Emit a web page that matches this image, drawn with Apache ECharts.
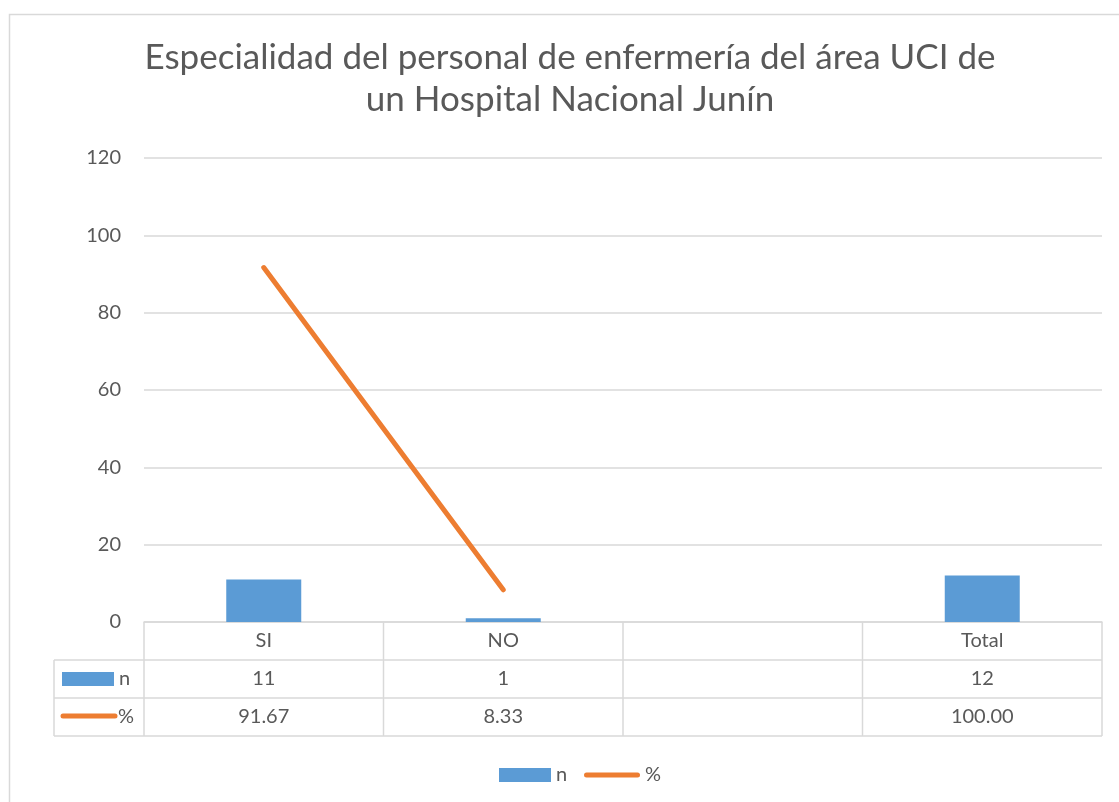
<!DOCTYPE html>
<html>
<head>
<meta charset="utf-8">
<script src="https://cdn.jsdelivr.net/npm/echarts@6/dist/echarts.min.js"></script>
<style>
html,body{margin:0;padding:0;background:#fff;}
#main{width:1119px;height:802px;}
</style>
</head>
<body>
<div id="main"></div>
<script>
const titleLines = ['Especialidad del personal de enfermería del área UCI de', 'un Hospital Nacional Junín'];
const categories = ['SI', 'NO', '', 'Total'];
const nValues = [11, 1, null, 12];
const pctValues = [91.67, 8.33, null, 100.00];
const yTicks = [0, 20, 40, 60, 80, 100, 120];
const seriesNames = ['n', '%'];

const FONT = 'Lato, "Open Sans", sans-serif';
const TXT = '#595959';
const GRID = '#d9d9d9';
const BLUE = '#5B9BD5';
const ORANGE = '#ED7D31';
const FS = 20;

const chart = echarts.init(document.getElementById('main'));
const option = {
  animation: false,
  textStyle: { fontFamily: FONT },
  grid: { left: 144, right: 17, top: 158, bottom: 180, outerBoundsMode: 'none' },
  legend: [
    {
      left: 494, top: 760,
      itemWidth: 52, itemHeight: 14, itemGap: 26,
      textStyle: { fontSize: FS, color: TXT, fontFamily: FONT },
      data: [{ name: seriesNames[0], icon: 'rect' }]
    },
    {
      left: 579, top: 760,
      itemWidth: 56, itemHeight: 5, itemGap: 10,
      textStyle: { fontSize: FS, color: TXT, fontFamily: FONT },
      data: [{ name: seriesNames[1], icon: 'path://M2.5,0 L53.5,0 A2.5,2.5 0 0 1 53.5,5 L2.5,5 A2.5,2.5 0 0 1 2.5,0 Z' }]
    }
  ],
  xAxis: {
    type: 'category',
    data: categories,
    axisLine: { show: true, lineStyle: { color: GRID, width: 1.5 } },
    axisTick: { show: false },
    axisLabel: { show: false },
    splitLine: { show: false }
  },
  yAxis: {
    type: 'value',
    min: yTicks[0], max: yTicks[yTicks.length - 1], interval: 20,
    axisLine: { show: false },
    axisTick: { show: false },
    axisLabel: { fontSize: FS, color: TXT, margin: 23, fontFamily: FONT },
    splitLine: { lineStyle: { color: GRID, width: 1.5 } }
  },
  series: [
    {
      name: seriesNames[0], type: 'bar', data: nValues, barWidth: 75,
      itemStyle: { color: BLUE }
    },
    {
      name: seriesNames[1], type: 'line', data: pctValues,
      symbol: 'none', connectNulls: false,
      lineStyle: { color: ORANGE, width: 5, cap: 'round' },
      itemStyle: { color: ORANGE }
    }
  ]
};
chart.setOption(option);

// Build the data table and title as graphics
const centers = categories.map((c, i) => chart.convertToPixel({ xAxisIndex: 0 }, i));
const band = centers[1] - centers[0];
const x0 = centers[0] - band / 2;
const x1 = centers[centers.length - 1] + band / 2;
const yZero = chart.convertToPixel({ yAxisIndex: 0 }, 0);
const rowH = 38;
const leftX = 54;
const lineStyle = { stroke: GRID, lineWidth: 1.5 };
const els = [];

// outer chart border
els.push({ type: 'rect', shape: { x: 9.5, y: 14.5, width: 1130, height: 800 }, style: { fill: 'none', stroke: GRID, lineWidth: 1.5 }, silent: true });

// title
titleLines.forEach((t, i) => {
  els.push({
    type: 'text', x: 570, y: 58 + i * 42,
    style: { text: t, fontSize: 35, fill: TXT, fontFamily: FONT, align: 'center', verticalAlign: 'middle' }
  });
});

// horizontal lines
const yTop = yZero, yR1 = yZero + rowH, yR2 = yZero + 2 * rowH, yBot = yZero + 3 * rowH;
els.push({ type: 'line', shape: { x1: leftX, y1: yR1, x2: x1, y2: yR1 }, style: lineStyle });
els.push({ type: 'line', shape: { x1: leftX, y1: yR2, x2: x1, y2: yR2 }, style: lineStyle });
els.push({ type: 'line', shape: { x1: leftX, y1: yBot, x2: x1, y2: yBot }, style: lineStyle });
els.push({ type: 'line', shape: { x1: leftX, y1: yR1, x2: leftX, y2: yBot }, style: lineStyle });
// vertical lines
for (let i = 0; i <= categories.length; i++) {
  const x = x0 + i * band;
  els.push({ type: 'line', shape: { x1: x, y1: yTop, x2: x, y2: yBot }, style: lineStyle });
}
// cell texts
const cellText = (t, x, y) => ({ type: 'text', x: x, y: y, style: { text: t, fontSize: FS, fill: TXT, fontFamily: FONT, align: 'center', verticalAlign: 'middle' } });
categories.forEach((c, i) => {
  els.push(cellText(c, centers[i], yTop + rowH / 2));
  els.push(cellText(nValues[i] == null ? '' : String(nValues[i]), centers[i], yR1 + rowH / 2));
  els.push(cellText(pctValues[i] == null ? '' : pctValues[i].toFixed(2), centers[i], yR2 + rowH / 2));
});
// legend keys in table
els.push({ type: 'rect', shape: { x: 62, y: yR1 + 12, width: 52, height: 14 }, style: { fill: BLUE } });
els.push({ type: 'text', x: 119, y: yR1 + rowH / 2, style: { text: seriesNames[0], fontSize: FS, fill: TXT, fontFamily: FONT, verticalAlign: 'middle' } });
els.push({ type: 'line', shape: { x1: 63, y1: yR2 + 18, x2: 115, y2: yR2 + 18 }, style: { stroke: ORANGE, lineWidth: 5, lineCap: 'round' } });
els.push({ type: 'text', x: 118, y: yR2 + rowH / 2, style: { text: seriesNames[1], fontSize: FS, fill: TXT, fontFamily: FONT, verticalAlign: 'middle' } });

chart.setOption({ graphic: { elements: els } });
</script>
</body>
</html>
